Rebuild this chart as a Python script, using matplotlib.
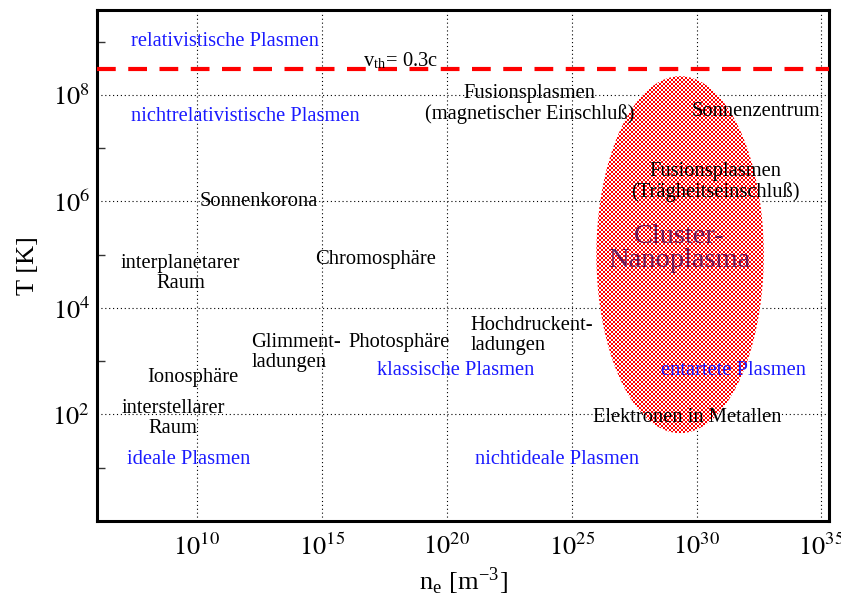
import numpy as np
import matplotlib
matplotlib.use("Agg")
import matplotlib.pyplot as plt
from matplotlib.ticker import FixedLocator, NullFormatter

plt.rcParams['font.family'] = ['Liberation Serif', 'DejaVu Serif']
plt.rcParams['mathtext.fontset'] = 'stix'

# ---------------- data ----------------
x_limits = [1e6, 2e35]          # n_e [m^-3]
y_limits = [1.0, 4e9]           # T [K]
x_tick_exps = [10, 15, 20, 25, 30, 35]
y_tick_exps = [2, 4, 6, 8]
y_minor_exps = [1, 3, 5, 7, 9]

v_th_T = 3e8                     # temperature of v_th = 0.3c boundary
v_th_label = r'$\mathregular{v}_{\mathregular{th}}$= 0.3c'
v_th_label_pos = (10**16.63, 10**8.54)

cluster_n_range = [10**25.99, 10**32.69]
cluster_T_range = [10**1.65, 10**8.35]
cluster_label = 'Cluster-\nNanoplasma'
cluster_label_pos = (10**29.32, 10**5.11)

black_labels = ['Fusionsplasmen\n(magnetischer Einschluß)', 'Sonnenzentrum',
                'Fusionsplasmen\n(Trägheitseinschluß)', 'Sonnenkorona',
                'Chromosphäre', 'interplanetarer\nRaum', 'Glimment-\nladungen',
                'Photosphäre', 'Hochdruckent-\nladungen', 'Ionosphäre',
                'interstellarer\nRaum', 'Elektronen in Metallen']
black_log_n = [23.33, 32.37, 30.76, 12.49, 17.15, 9.35, 12.17, 16.06, 20.96, 9.84, 9.05, 29.62]
black_log_T = [7.83, 7.69, 6.37, 6.00, 4.90, 4.64, 3.16, 3.35, 3.48, 2.70, 1.93, 1.95]
black_ha = ['center', 'center', 'center', 'center', 'center', 'center', 'left',
            'left', 'left', 'center', 'center', 'center']

blue_labels = ['relativistische Plasmen', 'nichtrelativistische Plasmen',
               'klassische Plasmen', 'entartete Plasmen',
               'ideale Plasmen', 'nichtideale Plasmen']
blue_log_n = [7.35, 7.35, 17.19, 28.59, 7.19, 21.12]
blue_log_T = [9.00, 7.59, 2.83, 2.83, 1.15, 1.15]

# ---------------- figure ----------------
W, H = 841, 601
fig = plt.figure(figsize=(W / 100, H / 100), dpi=100)
ax_l, ax_r, ax_b, ax_t = 97 / W, 829 / W, 1 - 521 / H, 1 - 9.5 / H
ax = fig.add_axes([ax_l, ax_b, ax_r - ax_l, ax_t - ax_b])
ax.set_xscale('log')
ax.set_yscale('log')
ax.set_xlim(*x_limits)
ax.set_ylim(*y_limits)
ax.set_autoscale_on(False)

# ticks
ax.xaxis.set_major_locator(FixedLocator([10.0**e for e in x_tick_exps]))
ax.xaxis.set_minor_locator(FixedLocator([]))
ax.set_xticklabels([r'$10^{%d}$' % e for e in x_tick_exps])
ax.yaxis.set_major_locator(FixedLocator([10.0**e for e in y_tick_exps]))
ax.yaxis.set_minor_locator(FixedLocator([10.0**e for e in y_minor_exps]))
ax.yaxis.set_minor_formatter(NullFormatter())
ax.set_yticklabels([r'$10^{%d}$' % e for e in y_tick_exps])
ax.tick_params(axis='x', which='major', length=0, pad=9, labelsize=19)
ax.tick_params(axis='y', which='major', length=0, pad=5, labelsize=19)
ax.tick_params(axis='y', which='minor', length=6, width=1.0, direction='in',
               color='#333333')
ax.tick_params(axis='x', which='both', top=False)
ax.tick_params(axis='y', which='both', right=False)

ax.grid(True, which='major', color='black', linewidth=0.8,
        linestyle=(0, (1, 2.5)))
for s in ax.spines.values():
    s.set_linewidth(2.2)

ax.set_xlabel(r'n$_\mathregular{e}$ [m$^{\mathregular{-3}}$]', fontsize=19, labelpad=4)
ax.set_ylabel('T [K]', fontsize=19, labelpad=10)

# cluster nanoplasma region (ellipse in log-log space) filled with red stipple
lx0, lx1 = np.log10(cluster_n_range)
ly0, ly1 = np.log10(cluster_T_range)
t = np.linspace(0, 2 * np.pi, 400)
ell_n = 10 ** ((lx0 + lx1) / 2 + (lx1 - lx0) / 2 * np.cos(t))
ell_T = 10 ** ((ly0 + ly1) / 2 + (ly1 - ly0) / 2 * np.sin(t))
poly = ax.fill(ell_n, ell_T, facecolor='none', edgecolor='none', zorder=2.5)[0]

pw, ph = int(round((ax_r - ax_l) * W)), int(round((ax_t - ax_b) * H))
ii, jj = np.mgrid[0:ph, 0:pw]
mask = ((ii // 2) + (jj // 2)) % 2 == 0
img = np.ones((ph, pw, 3))
img[mask] = [1.0, 0.0, 0.0]
im = ax.imshow(img, extent=(0, 1, 0, 1), transform=ax.transAxes,
               interpolation='none', aspect='auto', zorder=2.5)
im.set_clip_path(poly)
ax.set_xlim(*x_limits)
ax.set_ylim(*y_limits)

# v_th = 0.3c boundary
ax.axhline(v_th_T, color='#ff0000', linewidth=3, dashes=(4.5, 3), zorder=3)
ax.text(*v_th_label_pos, v_th_label, fontsize=14.8, ha='left', va='baseline', zorder=4)

# labels
for lab, lx, ly, ha in zip(black_labels, black_log_n, black_log_T, black_ha):
    ax.text(10**lx, 10**ly, lab, fontsize=14.8, ha=ha, va='center',
            multialignment=ha, linespacing=1.08, color='black', zorder=4)
for lab, lx, ly in zip(blue_labels, blue_log_n, blue_log_T):
    ax.text(10**lx, 10**ly, lab, fontsize=14.8, ha='left', va='center',
            color='#1a1aff', zorder=4)
ax.text(*cluster_label_pos, cluster_label, fontsize=20.5, ha='center', va='center',
        linespacing=0.95, color='#6b1a58', zorder=4)

fig.savefig('out.png', dpi=100)
